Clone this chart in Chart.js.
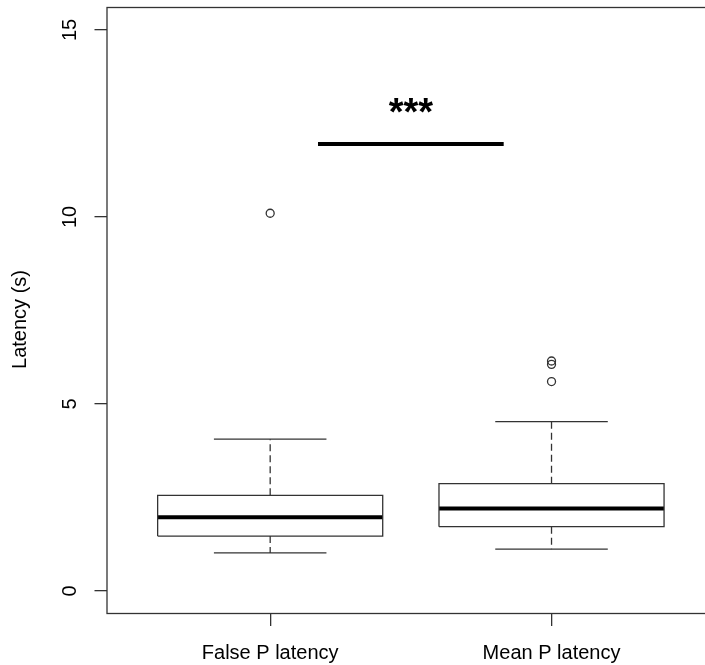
<!DOCTYPE html>
<html>
<head>
<meta charset="utf-8">
<script src="https://cdn.jsdelivr.net/npm/chart.js@4.4.1/dist/chart.umd.min.js"></script>
<style>
  html, body { margin: 0; padding: 0; background: #fff; overflow: hidden; }
  #wrap { width: 720px; height: 665px; }
</style>
</head>
<body>
<div id="wrap"><canvas id="boxChart" width="720" height="665"></canvas></div>
<script>
// Data
const categories = ['False P latency', 'Mean P latency'];
const whiskerLow = [1.02, 1.12];
const q1 = [1.47, 1.72];
const median = [1.97, 2.21];
const q3 = [2.56, 2.87];
const whiskerHigh = [4.06, 4.53];
const outliers = [[10.10], [6.15, 6.06, 5.60]];
const yTicks = [0, 5, 10, 15];
const yTitle = 'Latency (s)';
const sigLine = { from: 1.17, to: 1.83, y: 11.95, label: '***', labelY: 12.46 };

const BOX_HALF = 0.4;
const CAP_HALF = 0.2;
const lineColor = '#333';
const font = 'Liberation Sans';

function seg(points, width, color, dash) {
    return {
        type: 'line',
        data: points,
        borderColor: color,
        borderWidth: width,
        borderDash: dash || [],
        pointRadius: 0,
        fill: false,
        tension: 0
    };
}

// Build datasets from the arrays
const datasets = [];
categories.forEach((cat, i) => {
    const c = i + 1;
    // box outline
    datasets.push(seg([
        { x: c - BOX_HALF, y: q1[i] }, { x: c + BOX_HALF, y: q1[i] },
        { x: c + BOX_HALF, y: q3[i] }, { x: c - BOX_HALF, y: q3[i] },
        { x: c - BOX_HALF, y: q1[i] }
    ], 1.3, lineColor));
    // whiskers (dashed)
    datasets.push(seg([{ x: c, y: q3[i] }, { x: c, y: whiskerHigh[i] }], 1.3, lineColor, [7, 4]));
    datasets.push(seg([{ x: c, y: q1[i] }, { x: c, y: whiskerLow[i] }], 1.3, lineColor, [7, 4]));
    // caps
    datasets.push(seg([{ x: c - CAP_HALF, y: whiskerHigh[i] }, { x: c + CAP_HALF, y: whiskerHigh[i] }], 1.3, lineColor));
    datasets.push(seg([{ x: c - CAP_HALF, y: whiskerLow[i] }, { x: c + CAP_HALF, y: whiskerLow[i] }], 1.3, lineColor));
    // median
    datasets.push(seg([{ x: c - BOX_HALF, y: median[i] }, { x: c + BOX_HALF, y: median[i] }], 4, '#000'));
    // outliers
    datasets.push({
        type: 'scatter',
        data: outliers[i].map(v => ({ x: c, y: v })),
        pointStyle: 'circle',
        pointRadius: 4,
        borderColor: lineColor,
        borderWidth: 1.3,
        backgroundColor: 'rgba(255,255,255,0)'
    });
});
// significance bar
datasets.push(seg([{ x: sigLine.from, y: sigLine.y }, { x: sigLine.to, y: sigLine.y }], 4, '#000'));

// Frame, y title and significance stars
const framePlugin = {
    id: 'frame',
    afterDatasetsDraw(chart) {
        const { ctx, chartArea: a, scales } = chart;
        ctx.save();
        ctx.strokeStyle = lineColor;
        ctx.lineWidth = 1.3;
        ctx.strokeRect(a.left, a.top, a.right - a.left, a.bottom - a.top);
        ctx.fillStyle = '#000';
        ctx.font = 'bold 38px "' + font + '"';
        ctx.textAlign = 'center';
        ctx.textBaseline = 'alphabetic';
        const mid = (sigLine.from + sigLine.to) / 2;
        ctx.fillText(sigLine.label, scales.x.getPixelForValue(mid), scales.y.getPixelForValue(sigLine.labelY));
        // axis title, a bit below the plot centre like the original
        ctx.font = '20px "' + font + '"';
        ctx.textBaseline = 'middle';
        ctx.translate(20, (a.top + a.bottom) / 2 + 9);
        ctx.rotate(-Math.PI / 2);
        ctx.fillText(yTitle, 0, 0);
        ctx.restore();
    }
};

new Chart(document.getElementById('boxChart').getContext('2d'), {
    data: { datasets: datasets },
    options: {
        responsive: false,
        animation: false,
        layout: { padding: { top: 7.5, right: 4, left: 0, bottom: 0 } },
        plugins: { legend: { display: false }, tooltip: { enabled: false } },
        scales: {
            x: {
                type: 'linear',
                min: 0.42,
                max: 2.58,
                afterBuildTicks: s => { s.ticks = categories.map((c, i) => ({ value: i + 1 })); },
                afterFit: s => { s.height = 51.5; s.paddingLeft = 0; s.paddingRight = 0; },
                ticks: {
                    callback: v => categories[v - 1],
                    color: '#000',
                    font: { family: font, size: 20 },
                    padding: 15,
                    maxRotation: 0,
                    autoSkip: false
                },
                grid: { drawOnChartArea: false, drawTicks: true, tickLength: 12.5, color: lineColor, lineWidth: 1.3 },
                border: { display: false }
            },
            y: {
                type: 'linear',
                min: -0.6,
                max: 15.6,
                afterBuildTicks: s => { s.ticks = yTicks.map(v => ({ value: v })); },
                afterFit: s => { s.width = 107; s.paddingTop = 0; s.paddingBottom = 0; },
                ticks: {
                    color: '#000',
                    font: { family: font, size: 20 },
                    padding: 12.7,
                    minRotation: 90,
                    maxRotation: 90,
                    crossAlign: 'center'
                },
                grid: { drawOnChartArea: false, drawTicks: true, tickLength: 12.5, color: lineColor, lineWidth: 1.3 },
                border: { display: false }
            }
        }
    },
    plugins: [framePlugin]
});
</script>
</body>
</html>
